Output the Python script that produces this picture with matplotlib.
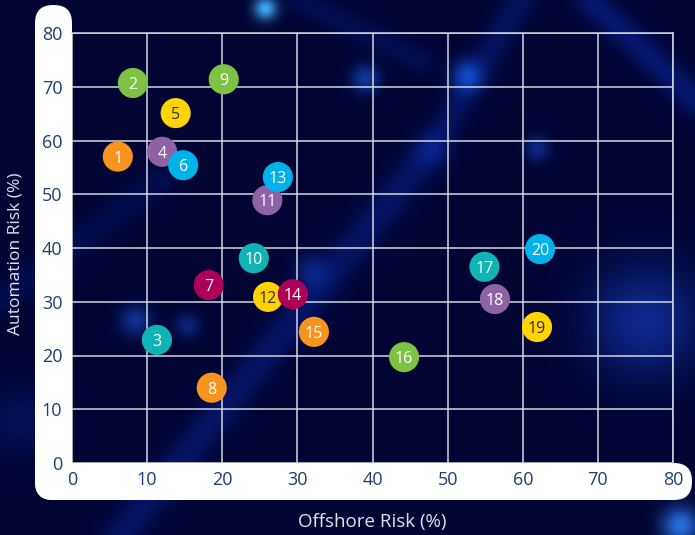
import numpy as np
import matplotlib
matplotlib.use("Agg")
import matplotlib.pyplot as plt
from matplotlib.patches import FancyBboxPatch
from matplotlib.transforms import IdentityTransform

# ---- data ----
labels = [str(i) for i in range(1, 21)]
offshore = [6.1, 8.1, 11.3, 12.0, 13.8, 14.8, 18.2, 18.6, 20.2, 24.2,
            26.0, 26.1, 27.4, 29.4, 32.2, 44.2, 54.9, 56.3, 61.9, 62.3]
automation = [57.0, 70.7, 22.9, 57.9, 65.1, 55.4, 33.1, 14.0, 71.4, 38.1,
              48.9, 30.9, 53.2, 31.4, 24.4, 19.7, 36.5, 30.5, 25.3, 39.8]
groups = ["orange", "green", "teal", "purple", "yellow", "cyan", "magenta", "orange",
          "green", "teal", "purple", "yellow", "cyan", "magenta", "orange", "green",
          "teal", "purple", "yellow", "cyan"]
palette = {"orange": "#F7941D", "green": "#7DC242", "teal": "#10B4B6",
           "purple": "#8F62A6", "yellow": "#FFD400", "cyan": "#00B2EA",
           "magenta": "#AA0058"}
x_ticks = [0, 10, 20, 30, 40, 50, 60, 70, 80]
y_ticks = [0, 10, 20, 30, 40, 50, 60, 70, 80]

W, H = 695, 535
plt.rcParams['font.family'] = ['Open Sans', 'DejaVu Sans']
fig = plt.figure(figsize=(W / 100, H / 100), dpi=100)

# ---- decorative background ----
yy, xx = np.mgrid[0:H, 0:W].astype(float)
img = np.zeros((H, W, 3))
img[:] = np.array([2, 4, 52]) / 255.0

def glow(cx, cy, s, col, a):
    g = np.exp(-((xx - cx) ** 2 + (yy - cy) ** 2) / (2 * s * s)) * a
    for k in range(3):
        img[..., k] += g * col[k]

def streak(x0, y0, x1, y1, s, col, a):
    dx, dy = x1 - x0, y1 - y0
    L2 = dx * dx + dy * dy
    t = np.clip(((xx - x0) * dx + (yy - y0) * dy) / L2, 0, 1)
    d2 = (xx - (x0 + t * dx)) ** 2 + (yy - (y0 + t * dy)) ** 2
    g = np.exp(-d2 / (2 * s * s)) * a
    for k in range(3):
        img[..., k] += g * col[k]

blue = (0.05, 0.25, 0.75)
streak(120, 535, 430, 150, 13, blue, 0.25)
streak(430, 150, 520, 0, 11, blue, 0.22)
streak(0, 300, 160, 180, 11, blue, 0.14)
streak(590, 0, 695, 100, 11, blue, 0.3)
streak(300, 0, 420, 60, 10, blue, 0.15)
glow(265, 8, 8, (0.3, 0.8, 0.95), 0.8)
glow(466, 75, 11, (0.1, 0.45, 0.9), 0.5)
glow(365, 78, 10, (0.1, 0.45, 0.9), 0.45)
glow(537, 148, 9, (0.1, 0.4, 0.9), 0.35)
glow(645, 320, 40, (0.1, 0.35, 0.85), 0.4)
glow(135, 320, 11, (0.1, 0.45, 0.9), 0.4)
glow(187, 325, 9, (0.1, 0.4, 0.9), 0.3)
glow(310, 270, 12, (0.1, 0.4, 0.9), 0.25)
glow(680, 525, 13, (0.2, 0.6, 0.95), 0.7)
glow(20, 420, 25, (0.05, 0.25, 0.7), 0.2)
img = np.clip(img, 0, 1)

bg = fig.add_axes([0, 0, 1, 1], zorder=0)
bg.imshow(img, aspect='auto', extent=[0, W, H, 0], interpolation='bilinear')
bg.set_xlim(0, W)
bg.set_ylim(H, 0)
bg.axis('off')

# ---- white rounded frame ----
r = 18
left_strip = FancyBboxPatch((35, H - 500), 72 - 35, 500 - 5,
                            boxstyle=f"round,pad=0,rounding_size={r}",
                            transform=IdentityTransform(), facecolor='white',
                            edgecolor='none', zorder=1)
bottom_strip = FancyBboxPatch((35, H - 500), 692 - 35, 500 - 463,
                              boxstyle=f"round,pad=0,rounding_size={r}",
                              transform=IdentityTransform(), facecolor='white',
                              edgecolor='none', zorder=1)
fig.patches.extend([left_strip, bottom_strip])

# ---- main axes ----
ax = fig.add_axes([72 / W, (H - 463) / H, (673 - 72) / W, (463 - 33) / H], zorder=2)
ax.set_facecolor('none')
ax.set_xlim(0, 80)
ax.set_ylim(0, 80)
ax.set_xticks(x_ticks)
ax.set_yticks(y_ticks)
ax.grid(True, color='#d4d6e0', linewidth=1.1)
ax.set_axisbelow(True)
for side in ['left', 'bottom']:
    ax.spines[side].set_visible(False)
for side in ['top', 'right']:
    ax.spines[side].set_color('#d4d6e0')
    ax.spines[side].set_linewidth(1.1)
ax.tick_params(length=0, labelsize=13, labelcolor='#1E3F70')
ax.tick_params(axis='y', pad=7)
ax.tick_params(axis='x', pad=6)

cols = [palette[g] for g in groups]
ax.scatter(offshore, automation, s=470, c=cols, edgecolors='none', zorder=3, clip_on=False)
for xv, yv, lab, g in zip(offshore, automation, labels, groups):
    tc = '#3a2a20' if g == 'yellow' else 'white'
    ax.text(xv, yv, lab, ha='center', va='center_baseline', fontsize=11.5,
            color=tc, zorder=4)

fig.text(372 / W, 1 - 522 / H, 'Offshore Risk (%)', ha='center', va='center',
         fontsize=13.5, color='#dfe3ee')
fig.text(16 / W, 1 - 254 / H, 'Automation Risk (%)', ha='center', va='center',
         rotation=90, fontsize=12.5, color='#dfe3ee')

fig.savefig('out.png', dpi=100)
